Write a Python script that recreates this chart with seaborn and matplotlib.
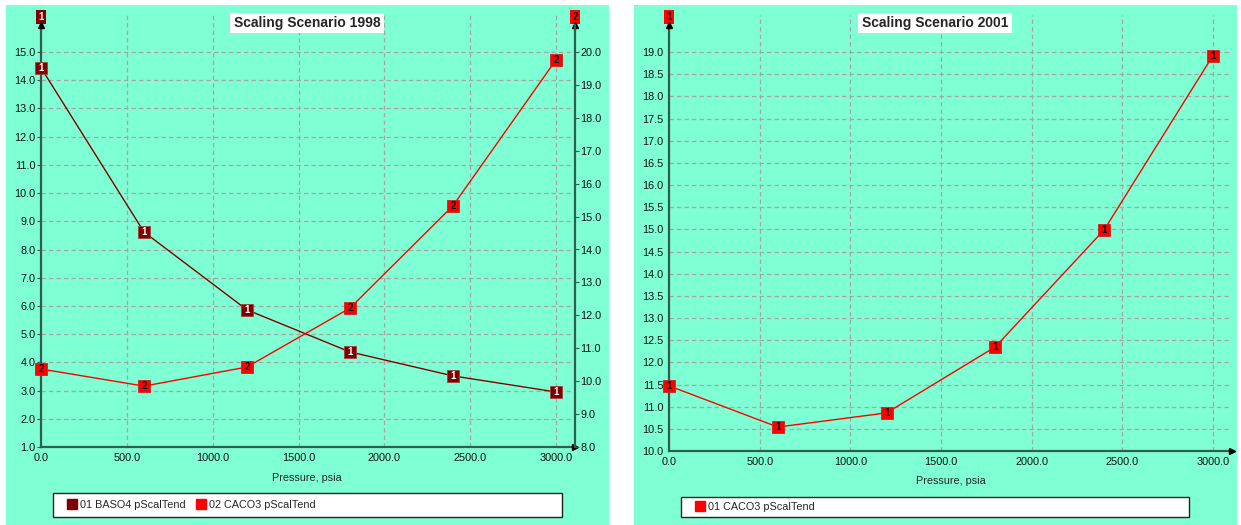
import numpy as np
import pandas as pd
import matplotlib
matplotlib.use("Agg")
import matplotlib.pyplot as plt
import seaborn as sns
from matplotlib.patches import Rectangle
from matplotlib.lines import Line2D
from matplotlib.ticker import FormatStrFormatter

# ---------------- data ----------------
pressure = [0, 600, 1200, 1800, 2400, 3000]
baso4_1998 = [14.44, 8.62, 5.86, 4.37, 3.52, 2.95]
caco3_1998 = [10.37, 9.85, 10.43, 12.22, 15.33, 19.76]
caco3_2001 = [11.47, 10.54, 10.86, 12.35, 14.99, 18.92]

x_ticks = [0, 500, 1000, 1500, 2000, 2500, 3000]
left_ticks_1998 = [1.0, 2.0, 3.0, 4.0, 5.0, 6.0, 7.0, 8.0, 9.0, 10.0, 11.0, 12.0, 13.0, 14.0, 15.0]
right_ticks_1998 = [8.0, 9.0, 10.0, 11.0, 12.0, 13.0, 14.0, 15.0, 16.0, 17.0, 18.0, 19.0, 20.0]
ticks_2001 = [10.0, 10.5, 11.0, 11.5, 12.0, 12.5, 13.0, 13.5, 14.0, 14.5, 15.0, 15.5,
              16.0, 16.5, 17.0, 17.5, 18.0, 18.5, 19.0]

titles = ["Scaling Scenario 1998", "Scaling Scenario 2001"]
x_label = "Pressure, psia"
legend_1998 = ["01 BASO4 pScalTend", "02 CACO3 pScalTend"]
legend_2001 = ["01 CACO3 pScalTend"]

# ---------------- style ----------------
sns.set_style("white")
plt.rcParams['font.family'] = ['Liberation Sans', 'DejaVu Sans']

BG = '#7FFFD4'
SPINE = '#2e5e50'
GRID = '#aaa4a4'
DARK = '#800000'
RED = '#ff0000'
FS = 7.8
MS = 8.2

W, H = 1241, 525
def fx(px):
    return px / W
def fy(py):
    return 1 - py / H

fig = plt.figure(figsize=(12.41, 5.25), dpi=100)
fig.patch.set_facecolor('white')
fig.add_artist(Rectangle((fx(6), 0), fx(609) - fx(6), fy(5), transform=fig.transFigure,
                         facecolor=BG, edgecolor='none', zorder=-1))
fig.add_artist(Rectangle((fx(634), 0), fx(1237) - fx(634), fy(5), transform=fig.transFigure,
                         facecolor=BG, edgecolor='none', zorder=-1))


def style_axis(ax, grid=True):
    ax.set_facecolor('none')
    for s in ax.spines.values():
        s.set_visible(False)
    ax.tick_params(axis='both', direction='out', length=3, width=0.8, color=SPINE,
                   labelsize=FS, pad=1, labelcolor='#111111')
    if grid:
        ax.grid(True, linestyle=(0, (3.5, 2.5)), color=GRID, linewidth=0.9)
        ax.set_axisbelow(True)
    else:
        ax.grid(False)


def label_points(ax, xs, ys, txt, color):
    for x, y in zip(xs, ys):
        ax.text(x, y, txt, ha='center', va='center', fontsize=7, color=color,
                fontweight='bold', zorder=6, clip_on=False)


def axis_tag(ax, xfrac, yfrac, txt, fc, tc):
    ax.text(xfrac, yfrac, txt, transform=ax.transAxes, ha='center', va='center',
            fontsize=7, color=tc, fontweight='bold', clip_on=False,
            bbox=dict(boxstyle='square,pad=0.25', facecolor=fc, edgecolor='none'), zorder=7)


# ================= left panel (1998) =================
axL = fig.add_axes([fx(41), fy(447), fx(575) - fx(41), (447 - 12) / H])
style_axis(axL)
axL.set_xlim(0, 3000 * (575 - 41) / (556 - 41))
axL.set_ylim(1, 1 + (447 - 12) / (395 / 14))
axL.set_xticks(x_ticks)
axL.set_yticks(left_ticks_1998)
axL.xaxis.set_major_formatter(FormatStrFormatter('%.1f'))
axL.yaxis.set_major_formatter(FormatStrFormatter('%.1f'))
for s in ('left', 'bottom'):
    axL.spines[s].set_visible(True)
    axL.spines[s].set_color(SPINE)
    axL.spines[s].set_linewidth(1.6)
axL.spines['left'].set_bounds(1, 1 + (447 - 25) / (395 / 14))

df1 = pd.DataFrame({'p': pressure, 'v': baso4_1998})
sns.lineplot(data=df1, x='p', y='v', ax=axL, color=DARK, linewidth=1.0, marker='s',
             markersize=MS, markeredgecolor='#a04040', markeredgewidth=0.6, zorder=5,
             clip_on=False)
label_points(axL, pressure, baso4_1998, '1', 'white')
axL.set_xlabel('')
axL.set_ylabel('')

axR = axL.twinx()
style_axis(axR, grid=False)
axR.set_ylim(8, 8 + (447 - 12) / (395 / 12))
axR.set_yticks(right_ticks_1998)
axR.yaxis.set_major_formatter(FormatStrFormatter('%.1f'))
axR.spines['right'].set_visible(True)
axR.spines['right'].set_color(SPINE)
axR.spines['right'].set_linewidth(1.6)
axR.spines['right'].set_bounds(8, 8 + (447 - 25) / (395 / 12))
df2 = pd.DataFrame({'p': pressure, 'v': caco3_1998})
sns.lineplot(data=df2, x='p', y='v', ax=axR, color=RED, linewidth=1.0, marker='s',
             markersize=MS, markeredgecolor='#d02020', markeredgewidth=0.6, zorder=5,
             clip_on=False)
label_points(axR, pressure, caco3_1998, '2', 'black')
axR.set_xlabel('')
axR.set_ylabel('')

# arrows
axL.plot([0], [(447 - 25) / 435], marker='^', color='black', markersize=5,
         transform=axL.transAxes, clip_on=False, zorder=8)
axL.plot([1], [(447 - 25) / 435], marker='^', color='black', markersize=5,
         transform=axL.transAxes, clip_on=False, zorder=8)
axL.plot([1], [0], marker='>', color='black', markersize=5,
         transform=axL.transAxes, clip_on=False, zorder=8)
axis_tag(axL, 0, (447 - 17) / 435, '1', DARK, 'white')
axis_tag(axL, 1, (447 - 17) / 435, '2', RED, 'black')

fig.text(fx(307), fy(23), titles[0], ha='center', va='center', fontsize=10,
         fontweight='bold', bbox=dict(boxstyle='square,pad=0.25', facecolor='white', edgecolor='none'))
fig.text(fx(307), fy(478), x_label, ha='center', va='center', fontsize=FS)

fig.add_artist(Rectangle((fx(53), fy(517)), fx(562) - fx(53), (517 - 493) / H,
                         transform=fig.transFigure, facecolor='white', edgecolor='#222222',
                         linewidth=1.0, zorder=1))
hL = [Line2D([], [], marker='s', linestyle='none', color=DARK, markersize=7.5),
      Line2D([], [], marker='s', linestyle='none', color=RED, markersize=7.5)]
fig.legend(hL, legend_1998, loc='center left', bbox_to_anchor=(fx(68), fy(505)),
           frameon=False, ncol=2, fontsize=FS, handlelength=0.8, handletextpad=0.35,
           columnspacing=1.0, borderaxespad=0, borderpad=0)

# ================= right panel (2001) =================
ax3 = fig.add_axes([fx(669), fy(451), fx(1232) - fx(669), (451 - 15) / H])
style_axis(ax3)
ax3.set_xlim(0, 3000 * (1232 - 669) / (1213 - 669))
ax3.set_ylim(10, 10 + (451 - 15) / (399 / 9))
ax3.set_xticks(x_ticks)
ax3.set_yticks(ticks_2001)
ax3.xaxis.set_major_formatter(FormatStrFormatter('%.1f'))
ax3.yaxis.set_major_formatter(FormatStrFormatter('%.1f'))
for s in ('left', 'bottom'):
    ax3.spines[s].set_visible(True)
    ax3.spines[s].set_color(SPINE)
    ax3.spines[s].set_linewidth(1.6)
ax3.spines['left'].set_bounds(10, 10 + (451 - 25) / (399 / 9))
df3 = pd.DataFrame({'p': pressure, 'v': caco3_2001})
sns.lineplot(data=df3, x='p', y='v', ax=ax3, color=RED, linewidth=1.0, marker='s',
             markersize=MS, markeredgecolor='#d02020', markeredgewidth=0.6, zorder=5,
             clip_on=False)
label_points(ax3, pressure, caco3_2001, '1', 'black')
ax3.set_xlabel('')
ax3.set_ylabel('')
ax3.plot([0], [(451 - 25) / 436], marker='^', color='black', markersize=5,
         transform=ax3.transAxes, clip_on=False, zorder=8)
ax3.plot([1], [0], marker='>', color='black', markersize=5,
         transform=ax3.transAxes, clip_on=False, zorder=8)
axis_tag(ax3, 0, (451 - 17) / 436, '1', RED, 'black')

fig.text(fx(935), fy(23), titles[1], ha='center', va='center', fontsize=10,
         fontweight='bold', bbox=dict(boxstyle='square,pad=0.25', facecolor='white', edgecolor='none'))
fig.text(fx(951), fy(481), x_label, ha='center', va='center', fontsize=FS)

fig.add_artist(Rectangle((fx(681), fy(517)), fx(1189) - fx(681), (517 - 497) / H,
                         transform=fig.transFigure, facecolor='white', edgecolor='#222222',
                         linewidth=1.0, zorder=1))
hR = [Line2D([], [], marker='s', linestyle='none', color=RED, markersize=7.5)]
fig.legend(hR, legend_2001, loc='center left', bbox_to_anchor=(fx(696), fy(507)),
           frameon=False, ncol=1, fontsize=FS, handlelength=0.8, handletextpad=0.35,
           borderaxespad=0, borderpad=0)

fig.savefig('out.png', dpi=100, facecolor='white')
